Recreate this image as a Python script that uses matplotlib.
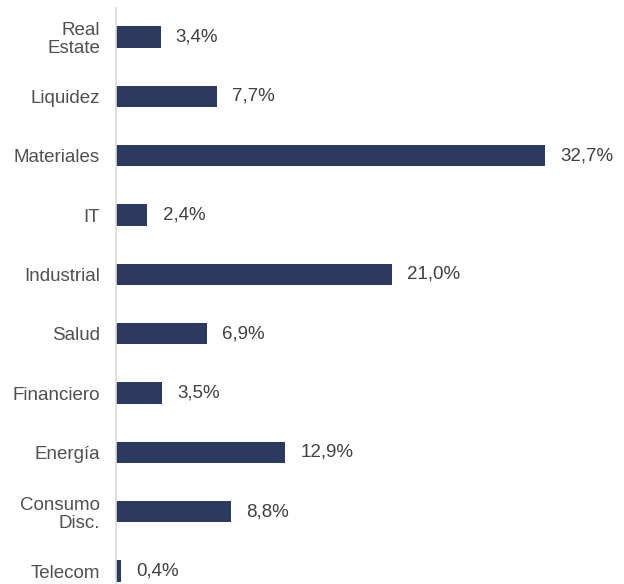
import matplotlib
matplotlib.use('Agg')
from matplotlib import pyplot as plt

plt.rcParams['font.family'] = ['Liberation Sans', 'DejaVu Sans']

sectores = ['Real\nEstate', 'Liquidez', 'Materiales', 'IT', 'Industrial', 'Salud',
            'Financiero', 'Energía', 'Consumo\nDisc.', 'Telecom']
pesos = [3.4, 7.7, 32.7, 2.4, 21.0, 6.9, 3.5, 12.9, 8.8, 0.4]

fig = plt.figure(figsize=(6.24, 5.84), dpi=100)
ax = fig.add_axes([116/624, 0, (600-116)/624, 576/584])

y = list(range(len(sectores)))
ax.barh(y, pesos, height=0.36, color='#2b3a5e')
for i, v in zip(y, pesos):
    ax.text(v + 1.15, i, f'{v:.1f}%'.replace('.', ','), va='center', ha='left',
            fontsize=13.5, color='#404040')

ax.set_xlim(0, (600-116)/13.12)
ax.set_ylim(9.219, -0.489)
ax.set_yticks(y)
ax.set_yticklabels(sectores, fontsize=13.5, color='#505050', linespacing=1.1)
ax.tick_params(axis='y', length=0, pad=11.5)
ax.set_xticks([])
for s in ['top', 'right', 'bottom']:
    ax.spines[s].set_visible(False)
ax.spines['left'].set_color('#d9d9d9')
ax.spines['left'].set_linewidth(1.2)

fig.savefig('out.png', dpi=100)
